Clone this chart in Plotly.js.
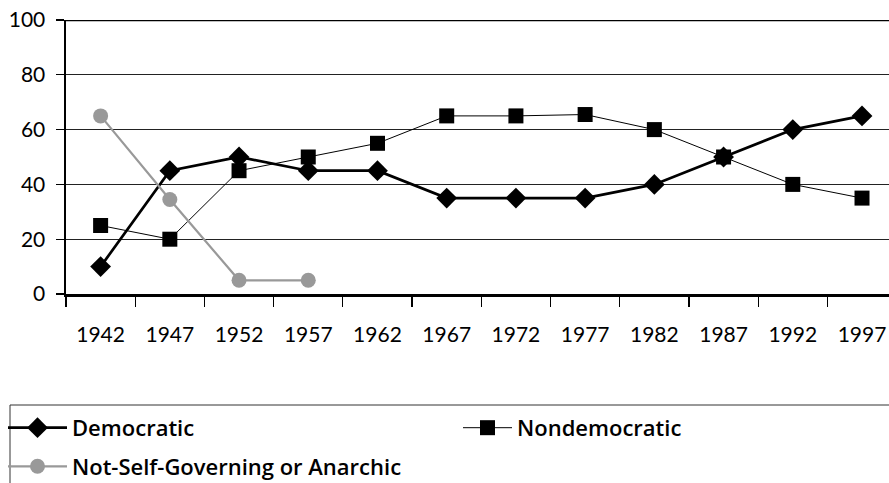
<!DOCTYPE html>
<html>
<head>
<meta charset="utf-8">
<script src="https://cdn.plot.ly/plotly-3.0.1.min.js"></script>
<style>html,body{margin:0;padding:0;background:#fff;}#chart{width:889px;height:483px;}</style>
</head>
<body>
<div id="chart"></div>
<script>
var years = ["1942","1947","1952","1957","1962","1967","1972","1977","1982","1987","1992","1997"];
var democratic = [10, 45, 50, 45, 45, 35, 35, 35, 40, 50, 60, 65];
var nondemocratic = [25, 20, 45, 50, 55, 65, 65, 65.5, 60, 50, 40, 35];
var notSelfGoverning = [65, 34.5, 5, 5];
var yTicks = [0, 20, 40, 60, 80, 100];

var FONT = "Lato, 'Open Sans', sans-serif";
var LFONT = "'Open Sans', Lato, sans-serif";

var traces = [
  {x: years, y: democratic, name: "Democratic", type: "scatter", mode: "lines+markers",
   legend: "legend", legendgroup: "a",
   line: {color: "#000", width: 2.7}, marker: {symbol: "diamond", size: 16, color: "#000"}},
  {x: years, y: nondemocratic, name: "Nondemocratic", type: "scatter", mode: "lines+markers",
   legend: "legend2", legendgroup: "b",
   line: {color: "#000", width: 1}, marker: {symbol: "square", size: 15, color: "#000"}},
  {x: years.slice(0, notSelfGoverning.length), y: notSelfGoverning, name: "Not-Self-Governing or Anarchic",
   type: "scatter", mode: "lines+markers", legend: "legend", legendgroup: "c",
   line: {color: "#999", width: 2.2}, marker: {symbol: "circle", size: 15, color: "#999"}}
];

var legendBase = {
  orientation: "v", yanchor: "top", xanchor: "left", y: -0.412,
  font: {size: 22, family: LFONT, weight: 600, color: "#000"},
  bgcolor: "rgba(0,0,0,0)", borderwidth: 0, tracegroupgap: 7
};

var layout = {
  width: 889, height: 483,
  margin: {l: 66, r: 0, t: 20, b: 189, autoexpand: false},
  paper_bgcolor: "#fff", plot_bgcolor: "#fff",
  font: {family: FONT, color: "#000"},
  showlegend: true,
  xaxis: {
    type: "category", categoryorder: "array", categoryarray: years,
    range: [-0.5, 11.39], tickson: "boundaries",
    ticks: "outside", ticklen: 10, tickwidth: 1.2, tickcolor: "#000",
    showline: true, linecolor: "#000", linewidth: 2.5,
    showgrid: false, zeroline: false,
    tickfont: {size: 21, family: FONT}, ticklabelstandoff: 20
  },
  yaxis: {
    range: [0, 100], tickvals: yTicks, ticktext: yTicks.map(String),
    ticks: "outside", ticklen: 8, tickwidth: 1.2, tickcolor: "#000",
    showline: true, linecolor: "#000", linewidth: 2.5,
    showgrid: true, gridcolor: "#222", gridwidth: 1,
    zeroline: false, tickfont: {size: 21, family: FONT}, ticklabelstandoff: 6
  },
  legend: Object.assign({}, legendBase, {x: (3 - 66) / 823, itemwidth: 59}),
  legend2: Object.assign({}, legendBase, {x: (458 - 66) / 823, itemwidth: 49}),
  shapes: [
    {type: "line", xref: "paper", yref: "y", x0: 0, x1: 1, y0: 100, y1: 100,
     line: {color: "#000", width: 2.5}},
    {type: "rect", xref: "paper", yref: "paper", x0: (10 - 66) / 823, x1: 1.1, y0: (294 - 405) / 274, y1: -0.8,
     line: {color: "#333", width: 1}}
  ]
};

Plotly.newPlot("chart", traces, layout, {displayModeBar: false, staticPlot: true});
</script>
</body>
</html>
